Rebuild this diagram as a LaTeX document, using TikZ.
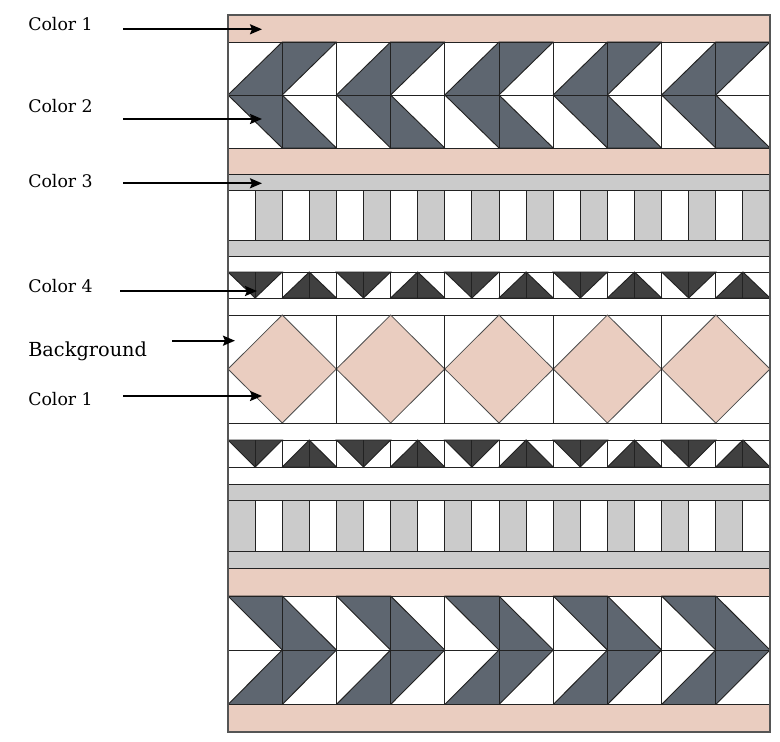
\documentclass[tikz,border=0pt]{standalone}
\usepackage{fontspec}
\setmainfont{DejaVu Serif}
\usetikzlibrary{arrows.meta}
\definecolor{cpink}{HTML}{EACDC0}
\definecolor{cgray}{HTML}{CBCBCB}
\definecolor{cslate}{HTML}{5E6670}
\definecolor{cdark}{HTML}{404040}
\definecolor{cline}{HTML}{222222}
\definecolor{cborder}{HTML}{555555}
\tikzset{
  ln/.style={draw=cline, line width=0.7pt},
  pinkband/.style={fill=cpink, draw=cline, line width=0.7pt},
  grayband/.style={fill=cgray, draw=cline, line width=0.7pt},
  whiteband/.style={fill=white, draw=cline, line width=0.7pt},
  goose/.style={fill=cslate, draw=cline, line width=0.7pt, line join=round},
  darktri/.style={fill=cdark, draw=cline, line width=0.7pt},
  diam/.style={fill=cpink, draw=black!70, line width=0.6pt},
  lbl/.style={anchor=base west, inner sep=0pt, font=\fontsize{13}{15}\selectfont},
  arr/.style={line width=1.5pt, -{Stealth[length=9pt,width=7.5pt,inset=1.5pt]}},
}
\begin{document}
\begin{tikzpicture}[x=0.75pt, y=-0.75pt]
\useasboundingbox (0,0) rectangle (780,741);
\def\xl{228}\def\xr{770}
% ---------- top pink band
\path[pinkband] (\xl,15.3) rectangle (\xr,42);
% ---------- top geese (pointing left)
\path[fill=white] (\xl,42) rectangle (\xr,148);
\foreach \k in {0,...,4}{
  \pgfmathsetmacro{\a}{\xl+108.4*\k}
  \pgfmathsetmacro{\b}{\a+54.2}
  \pgfmathsetmacro{\c}{\a+108.4}
  \path[goose] (\a,95) -- (\b,42) -- (\c,42) -- (\b,95) -- (\c,148) -- (\b,148) -- cycle;
}
\foreach \k in {0,...,10}{\draw[ln] (\xl+54.2*\k,42) -- (\xl+54.2*\k,148);}
\draw[ln] (\xl,95) -- (\xr,95);
\draw[ln] (\xl,42) -- (\xr,42);
% ---------- pink band
\path[pinkband] (\xl,148) rectangle (\xr,174.5);
% ---------- gray bands & strips (top)
\path[grayband] (\xl,174.5) rectangle (\xr,190);
\foreach \k in {0,...,19}{
  \pgfmathsetmacro{\s}{\xl+27.1*\k}
  \ifodd\k \path[grayband] (\s,190) rectangle (\s+27.1,240);
  \else \path[whiteband] (\s,190) rectangle (\s+27.1,240); \fi
}
\path[grayband] (\xl,240) rectangle (\xr,256);
\path[whiteband] (\xl,256) rectangle (\xr,272);
% ---------- triangle row 1
\path[whiteband] (\xl,272) rectangle (\xr,298);
\foreach \k in {0,...,4}{
  \pgfmathsetmacro{\p}{\xl+108.4*\k}
  \path[darktri] (\p,272) -- (\p+54.2,272) -- (\p+27.1,298) -- cycle;
  \path[darktri] (\p+54.2,298) -- (\p+108.4,298) -- (\p+81.3,272) -- cycle;
}
\foreach \k in {0,...,20}{\draw[ln] (\xl+27.1*\k,272) -- (\xl+27.1*\k,298);}
\path[whiteband] (\xl,298) rectangle (\xr,315);
% ---------- diamonds
\path[whiteband] (\xl,315) rectangle (\xr,423);
\foreach \k in {0,...,4}{
  \pgfmathsetmacro{\q}{\xl+108.4*\k}
  \path[diam] (\q,369) -- (\q+54.2,315) -- (\q+108.4,369) -- (\q+54.2,423) -- cycle;
}
\foreach \k in {0,...,5}{\draw[ln] (\xl+108.4*\k,315) -- (\xl+108.4*\k,423);}
\path[whiteband] (\xl,423) rectangle (\xr,440);
% ---------- triangle row 2
\path[whiteband] (\xl,440) rectangle (\xr,467);
\foreach \k in {0,...,4}{
  \pgfmathsetmacro{\p}{\xl+108.4*\k}
  \path[darktri] (\p,440) -- (\p+54.2,440) -- (\p+27.1,467) -- cycle;
  \path[darktri] (\p+54.2,467) -- (\p+108.4,467) -- (\p+81.3,440) -- cycle;
}
\foreach \k in {0,...,20}{\draw[ln] (\xl+27.1*\k,440) -- (\xl+27.1*\k,467);}
\path[whiteband] (\xl,467) rectangle (\xr,484);
% ---------- gray bands & strips (bottom)
\path[grayband] (\xl,484) rectangle (\xr,500.5);
\foreach \k in {0,...,19}{
  \pgfmathsetmacro{\s}{\xl+27.1*\k}
  \ifodd\k \path[whiteband] (\s,500.5) rectangle (\s+27.1,551.5);
  \else \path[grayband] (\s,500.5) rectangle (\s+27.1,551.5); \fi
}
\path[grayband] (\xl,551.5) rectangle (\xr,568.5);
% ---------- pink band
\path[pinkband] (\xl,568.5) rectangle (\xr,596);
% ---------- bottom geese (pointing right)
\path[fill=white] (\xl,596) rectangle (\xr,704.5);
\foreach \k in {0,...,4}{
  \pgfmathsetmacro{\a}{\xl+108.4*\k}
  \pgfmathsetmacro{\b}{\a+54.2}
  \pgfmathsetmacro{\c}{\a+108.4}
  \path[goose] (\a,596) -- (\b,596) -- (\c,650) -- (\b,704.5) -- (\a,704.5) -- (\b,650) -- cycle;
}
\foreach \k in {0,...,10}{\draw[ln] (\xl+54.2*\k,596) -- (\xl+54.2*\k,704.5);}
\draw[ln] (\xl,650) -- (\xr,650);
\draw[ln] (\xl,596) -- (\xr,596);
% ---------- bottom pink band
\path[pinkband] (\xl,704.5) rectangle (\xr,732.3);
% ---------- outer border
\draw[draw=cborder, line width=1.3pt] (\xl,15.3) rectangle (\xr,732.3);

% ---------- labels and arrows
\node[lbl] (l1) at (28,31) {Color 1};
\node[lbl] (l2) at (28,113) {Color 2};
\node[lbl] (l3) at (28,188) {Color 3};
\node[lbl] (l4) at (28,292) {Color 4};
\node[lbl, font=\fontsize{14.5}{17}\selectfont] (lb) at (28,356) {Background};
\node[lbl] (l5) at (28,405) {Color 1};

\coordinate (s1) at (123,29.3);  \coordinate (t1) at (262,29.3);
\coordinate (s2) at (123,119);   \coordinate (t2) at (262,119);
\coordinate (s3) at (123,183.3); \coordinate (t3) at (262,183.3);
\coordinate (s4) at (120,291);   \coordinate (t4) at (257,291);
\coordinate (sb) at (172,340.7); \coordinate (tb) at (235,340.7);
\coordinate (s5) at (123,396);   \coordinate (t5) at (262,396);
\draw[arr] (s1) -- (t1);
\draw[arr] (s2) -- (t2);
\draw[arr] (s3) -- (t3);
\draw[arr] (s4) -- (t4);
\draw[arr] (sb) -- (tb);
\draw[arr] (s5) -- (t5);
\end{tikzpicture}
\end{document}
